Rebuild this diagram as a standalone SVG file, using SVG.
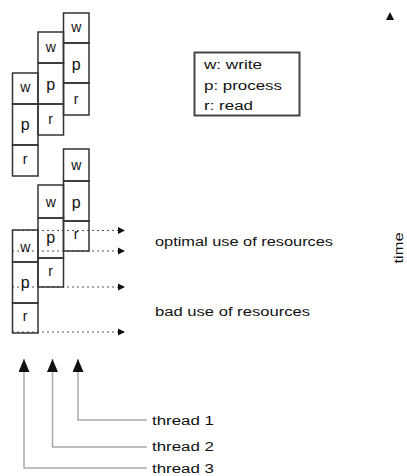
<svg xmlns="http://www.w3.org/2000/svg" width="407" height="476" viewBox="0 0 407 476">
<style>
 .box{fill:none;stroke:#333;stroke-width:1.5}
 .lt{font-family:"Liberation Sans",Arial,sans-serif;font-size:14px;fill:#111;text-anchor:middle}
 .lp{font-size:16px}
 .lbl{font-family:"Liberation Sans",Arial,sans-serif;font-size:12px;fill:#111}
 .dot{stroke:#555;stroke-width:1.2;stroke-dasharray:2 3;fill:none}
 .thr{stroke:#aaa;stroke-width:1.5;fill:none}
 .leg{fill:#fff;stroke:#444;stroke-width:2}
</style>
<defs>
 <marker id="ah" markerWidth="8" markerHeight="8" refX="7" refY="4" orient="auto" markerUnits="userSpaceOnUse"><path d="M0,0.5 L7,4 L0,7.5 Z" fill="#111"/></marker>
 <marker id="ahu" markerWidth="13" markerHeight="12" refX="13" refY="5.5" orient="auto" markerUnits="userSpaceOnUse"><path d="M0,0 L13,5.5 L0,11 Z" fill="#111"/></marker>
</defs>

<g id="connectors">
 <path class="dot" d="M12,230.5 H125" marker-end="url(#ah)"/>
 <path class="dot" d="M12,251 H125" marker-end="url(#ah)"/>
 <path class="dot" d="M12,287 H125" marker-end="url(#ah)"/>
 <path class="dot" d="M12,332 H125" marker-end="url(#ah)"/>
 <path class="thr" d="M147,420 H78 V359" marker-end="url(#ahu)"/>
 <path class="thr" d="M147,447 H52.5 V359" marker-end="url(#ahu)"/>
 <path class="thr" d="M147,468 H24 V359" marker-end="url(#ahu)"/>
 <polygon id="time-arrow" points="390,12 386,20 394,20" fill="#111"/>
</g>

<!-- top (bad) schedule -->
<g id="top-t1">
 <g id="top-t1-w"><rect class="box" x="63.5" y="13" width="25.5" height="30"/><text class="lt" x="76.2" y="32">w</text></g>
 <g id="top-t1-p"><rect class="box" x="63.5" y="43" width="25.5" height="40"/><text class="lt lp" x="76.2" y="70">p</text></g>
 <g id="top-t1-r"><rect class="box" x="63.5" y="83" width="25.5" height="32"/><text class="lt" x="76.2" y="104">r</text></g>
</g>
<g id="top-t2">
 <g id="top-t2-w"><rect class="box" x="38" y="32" width="25.5" height="31"/><text class="lt" x="50.7" y="52">w</text></g>
 <g id="top-t2-p"><rect class="box" x="38" y="63" width="25.5" height="41"/><text class="lt lp" x="50.7" y="90">p</text></g>
 <g id="top-t2-r"><rect class="box" x="38" y="104" width="25.5" height="31"/><text class="lt" x="50.7" y="124">r</text></g>
</g>
<g id="top-t3">
 <g id="top-t3-w"><rect class="box" x="12.5" y="73" width="25.5" height="31"/><text class="lt" x="25.2" y="92">w</text></g>
 <g id="top-t3-p"><rect class="box" x="12.5" y="104" width="25.5" height="41"/><text class="lt lp" x="25.2" y="130">p</text></g>
 <g id="top-t3-r"><rect class="box" x="12.5" y="145" width="25.5" height="31"/><text class="lt" x="25.2" y="164">r</text></g>
</g>

<!-- bottom (optimal) schedule -->
<g id="bot-t1">
 <g id="bot-t1-w"><rect class="box" x="63.5" y="149" width="25.5" height="32"/><text class="lt" x="76.2" y="170">w</text></g>
 <g id="bot-t1-p"><rect class="box" x="63.5" y="181" width="25.5" height="40"/><text class="lt lp" x="76.2" y="208">p</text></g>
 <g id="bot-t1-r"><rect class="box" x="63.5" y="221" width="25.5" height="30"/><text class="lt" x="76.2" y="239">r</text></g>
</g>
<g id="bot-t2">
 <g id="bot-t2-w"><rect class="box" x="38" y="185" width="25.5" height="33"/><text class="lt" x="50.7" y="207">w</text></g>
 <g id="bot-t2-p"><rect class="box" x="38" y="218" width="25.5" height="40"/><text class="lt lp" x="50.7" y="243">p</text></g>
 <g id="bot-t2-r"><rect class="box" x="38" y="258" width="25.5" height="29"/><text class="lt" x="50.7" y="276">r</text></g>
</g>
<g id="bot-t3">
 <g id="bot-t3-w"><rect class="box" x="12.5" y="230" width="25.5" height="32"/><text class="lt" x="25.2" y="252">w</text></g>
 <g id="bot-t3-p"><rect class="box" x="12.5" y="262" width="25.5" height="41"/><text class="lt lp" x="25.2" y="288">p</text></g>
 <g id="bot-t3-r"><rect class="box" x="12.5" y="303" width="25.5" height="30"/><text class="lt" x="25.2" y="321">r</text></g>
</g>

<g id="legend">
 <rect class="leg" x="194.5" y="52.5" width="105" height="63"/>
 <text class="lbl" x="204" y="69" font-size="13" textLength="58" lengthAdjust="spacingAndGlyphs">w: write</text>
 <text class="lbl" x="204" y="90" font-size="13" textLength="78" lengthAdjust="spacingAndGlyphs">p: process</text>
 <text class="lbl" x="204" y="110" font-size="13" textLength="49" lengthAdjust="spacingAndGlyphs">r: read</text>
</g>

<g id="labels">
 <text id="lbl-optimal" class="lbl" x="155" y="246" font-size="13" textLength="178" lengthAdjust="spacingAndGlyphs">optimal use of resources</text>
 <text id="lbl-bad" class="lbl" x="155" y="316" font-size="13" textLength="155" lengthAdjust="spacingAndGlyphs">bad use of resources</text>
 <text id="lbl-thread1" class="lbl" x="152" y="425" textLength="62" lengthAdjust="spacingAndGlyphs">thread 1</text>
 <text id="lbl-thread2" class="lbl" x="152" y="451" textLength="62" lengthAdjust="spacingAndGlyphs">thread 2</text>
 <text id="lbl-thread3" class="lbl" x="152" y="473" textLength="62" lengthAdjust="spacingAndGlyphs">thread 3</text>
 <text id="lbl-time" class="lbl" x="0" y="0" text-anchor="middle" textLength="31" lengthAdjust="spacingAndGlyphs" transform="translate(403,248) rotate(-90)">time</text>
</g>
</svg>
